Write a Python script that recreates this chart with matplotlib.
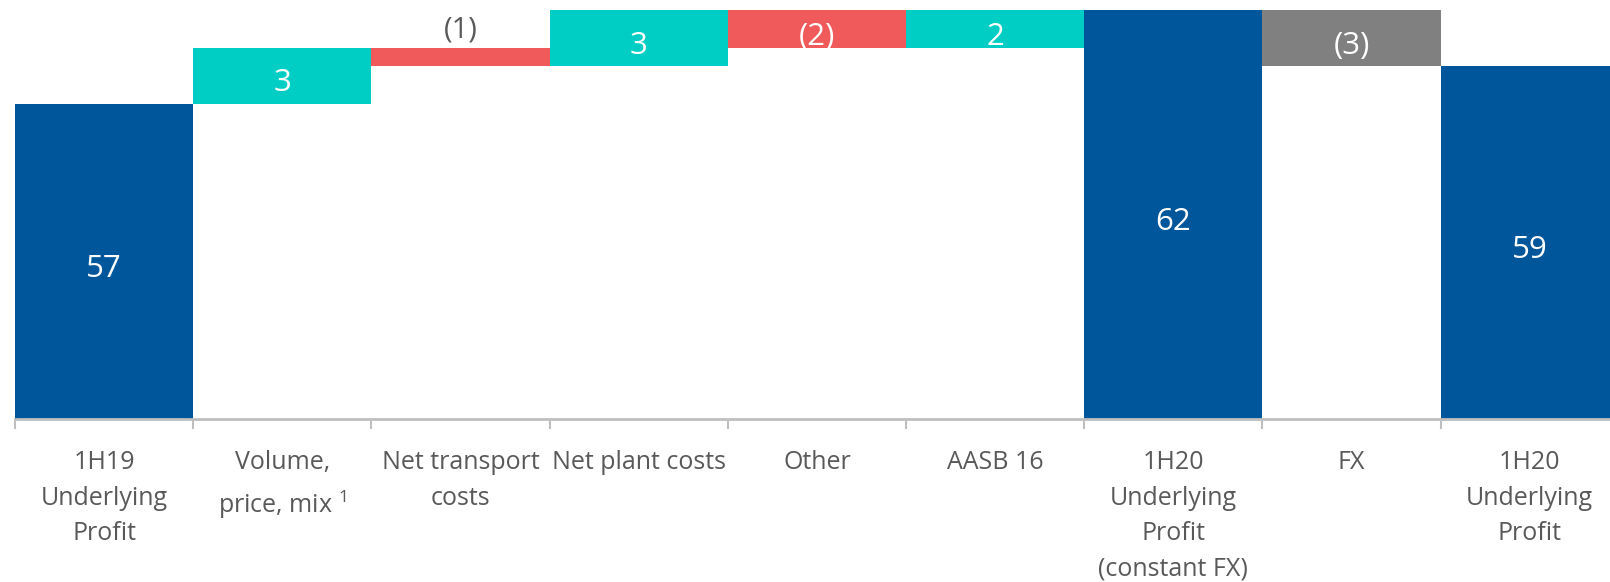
"""
Underlying Profit bridge 1H19 -> 1H20 (waterfall)
"""

import numpy as np
import matplotlib
matplotlib.use('Agg')
import matplotlib.pyplot as plt

plt.rcParams['font.family'] = ['Open Sans', 'DejaVu Sans']
plt.rcParams['mathtext.fontset'] = 'custom'
plt.rcParams['mathtext.rm'] = 'Open Sans'

# categories and movements
categories = [
    '1H19\nUnderlying\nProfit',
    'Volume,\nprice, mix $^{1}$',
    'Net transport\ncosts',
    'Net plant costs',
    'Other',
    'AASB 16',
    '1H20\nUnderlying\nProfit\n(constant FX)',
    'FX',
    '1H20\nUnderlying\nProfit',
]
movements = [57, 3, -1, 3, -2, 2, None, -3, None]   # None = subtotal
kinds = ['total', 'step', 'step', 'step', 'step', 'step', 'total', 'fx', 'total']

# colours
NAVY = '#00569A'
TEAL = '#00CEC4'
RED = '#F05A5B'
GREY = '#808080'
TEXT = '#595959'
AXIS = '#BFBFBF'

# running totals
bottoms, heights, values = [], [], []
running = 0
for m, k in zip(movements, kinds):
    if k == 'total':
        if m is not None:
            running = m
        bottoms.append(0)
        heights.append(running)
        values.append(running)
    else:
        start = running
        running += m
        bottoms.append(min(start, running))
        heights.append(abs(m))
        values.append(m)

colors = []
for v, k in zip(values, kinds):
    if k == 'total':
        colors.append(NAVY)
    elif k == 'fx':
        colors.append(GREY)
    else:
        colors.append(TEAL if v > 0 else RED)

fig = plt.figure(figsize=(16.1, 5.82), dpi=100)
ax = fig.add_axes([0.00932, 0.2801, 0.9962, 0.7086])

x = np.arange(len(categories))
ax.bar(x, heights, bottom=bottoms, width=1.0, color=colors, linewidth=0)

ymin, ymax = 40.1, 62.2
ax.set_ylim(ymin, ymax)
ax.set_xlim(-0.5, len(categories) - 0.5)

# value labels
for xi, b, h, v in zip(x, bottoms, heights, values):
    txt = f'({abs(v)})' if v < 0 else f'{v}'
    if h < 1.5 and b + h < ymax - 1.5:
        ax.text(xi, b + h + 0.15, txt, ha='center', va='bottom',
                fontsize=21, color=TEXT)
    else:
        mid = (max(b, ymin) + b + h) / 2
        ax.annotate(txt, (xi, mid), xytext=(0, -3), textcoords='offset points',
                    ha='center', va='center_baseline',
                    fontsize=22.5, color='white')

# axis styling
for side in ['top', 'right', 'left']:
    ax.spines[side].set_visible(False)
ax.spines['bottom'].set_color(AXIS)
ax.spines['bottom'].set_linewidth(2)
ax.set_yticks([])

ax.set_xticks(x)
ax.set_xticklabels(categories, fontsize=18, color=TEXT, linespacing=1.55)
ax.tick_params(axis='x', which='major', length=0, pad=22.5)
ax.set_xticks(np.arange(len(categories)) - 0.5, minor=True)
ax.tick_params(axis='x', which='minor', length=7.5, width=1.5, color=AXIS)

plt.savefig('out.png', dpi=100, facecolor='white')
